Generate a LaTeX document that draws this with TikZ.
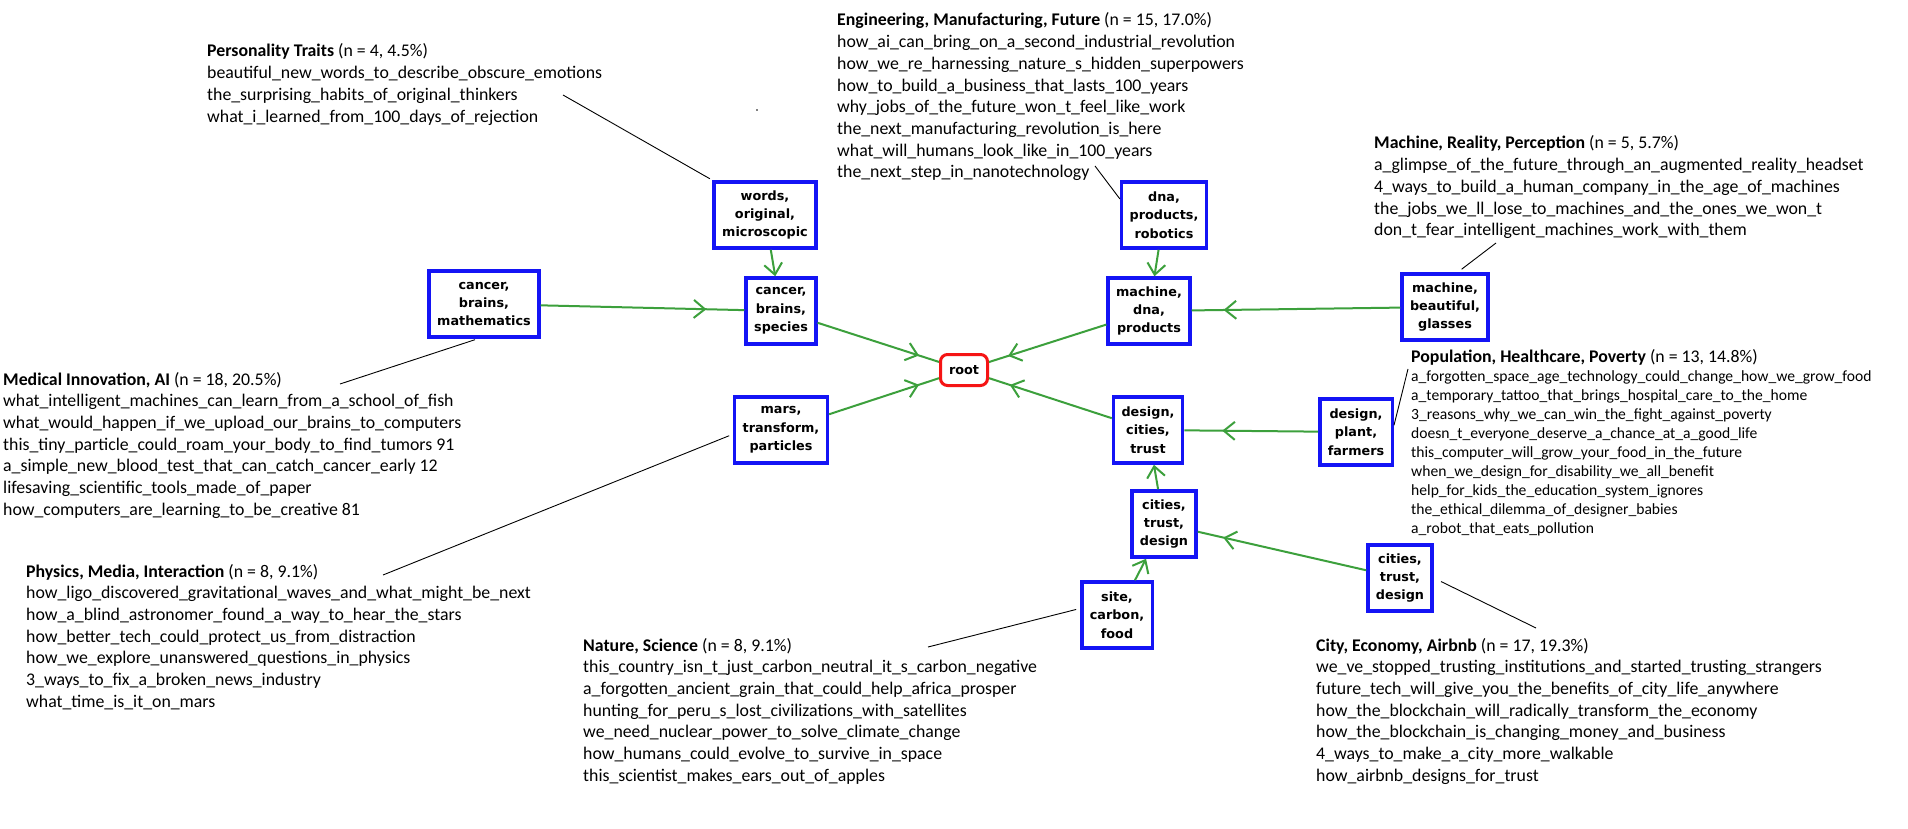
\documentclass[tikz,border=0pt]{standalone}
\usepackage{fontspec}
\setmainfont{Carlito}
\newfontfamily\boxfam{DejaVu Sans}
\usetikzlibrary{arrows.meta,decorations.markings}
\definecolor{edgegreen}{RGB}{60,160,60}
\definecolor{boxblue}{RGB}{20,20,245}
\definecolor{rootred}{RGB}{245,20,20}
\newcommand\blk[3]{\begin{tabular}[t]{@{}l@{}}\textbf{#1} #2\\#3\end{tabular}}
\newcommand\blkbig[3]{\begin{tabular}[t]{@{}l@{}}{\fontsize{17.8}{20}\selectfont\textbf{#1} #2}\\#3\end{tabular}}
\begin{document}
\begin{tikzpicture}[x=1pt,y=-1pt,
  tbox/.style={draw=boxblue, line width=3.5pt, fill=white, align=center, minimum height=66pt, inner xsep=8pt, inner ysep=3pt, font=\boxfam\bfseries\fontsize{12.8}{18.3}\selectfont, text=black},
  rootbox/.style={draw=rootred, line width=3pt, rounded corners=7pt, fill=white, minimum width=47pt, minimum height=31pt, inner sep=2pt, font=\boxfam\bfseries\fontsize{12.8}{18.3}\selectfont, text=black},
  edge/.style={draw=edgegreen, line width=2pt},
  marr/.style={postaction={decorate,decoration={markings,mark=at position #1 with {\arrow{Straight Barb[length=11pt,width=18pt]}}}}},
  endarr/.style={-{Straight Barb[length=11pt,width=18pt]}},
  lead/.style={draw=black, line width=0.9pt},
  txt/.style={anchor=base west, inner sep=0pt, font=\fontsize{17.8}{21.7}\selectfont},
  txts/.style={anchor=base west, inner sep=0pt, font=\fontsize{15.6}{19}\selectfont}]
\fill[white] (0,0) rectangle (1908,829);
\useasboundingbox (0,0) rectangle (1908,829);

% boxes
\node[tbox] (words) at (765,215) {words,\\original,\\microscopic};
\node[tbox] (cbm) at (484,304) {cancer,\\brains,\\mathematics};
\node[tbox] (cbs) at (781,311) {cancer,\\brains,\\species};
\node[rootbox] (root) at (964,370) {root};
\node[tbox] (mars) at (781,430) {mars,\\transform,\\particles};
\node[tbox] (dpr) at (1164,215) {dna,\\products,\\robotics};
\node[tbox] (mdp) at (1149,311) {machine,\\dna,\\products};
\node[tbox] (mbg) at (1445,307) {machine,\\beautiful,\\glasses};
\node[tbox] (dct) at (1148,430) {design,\\cities,\\trust};
\node[tbox] (dpf) at (1356,432) {design,\\plant,\\farmers};
\node[tbox] (ctm) at (1164,524) {cities,\\trust,\\design};
\node[tbox] (ctr) at (1400,578) {cities,\\trust,\\design};
\node[tbox] (site) at (1117,615) {site,\\carbon,\\food};

% green edges
\draw[edge, endarr] (words) -- (cbs);
\draw[edge, marr=-38pt] (cbm) -- (cbs);
\draw[edge, marr=-21pt] (cbs) -- (root);
\draw[edge, marr=-21pt] (mars) -- (root);
\draw[edge, marr=-20pt] (mdp) -- (root);
\draw[edge, marr=-22pt] (dct) -- (root);
\draw[edge, endarr] (dpr) -- (mdp);
\draw[edge, marr=-32pt] (mbg) -- (mdp);
\draw[edge, marr=-38pt] (dpf) -- (dct);
\draw[edge, endarr] (ctm) -- (dct);
\draw[edge, marr=-26pt] (ctr) -- (ctm);
\draw[edge, endarr] (site) -- (ctm);

% text blocks
\node[txt] (tpers) at (207,57) {\blk{Personality Traits}{(n = 4, 4.5\%)}{beautiful\_new\_words\_to\_describe\_obscure\_emotions\\the\_surprising\_habits\_of\_original\_thinkers\\what\_i\_learned\_from\_100\_days\_of\_rejection}};

\node[txt] (teng) at (837,26) {\blk{Engineering, Manufacturing, Future}{(n = 15, 17.0\%)}{how\_ai\_can\_bring\_on\_a\_second\_industrial\_revolution\\how\_we\_re\_harnessing\_nature\_s\_hidden\_superpowers\\how\_to\_build\_a\_business\_that\_lasts\_100\_years\\why\_jobs\_of\_the\_future\_won\_t\_feel\_like\_work\\the\_next\_manufacturing\_revolution\_is\_here\\what\_will\_humans\_look\_like\_in\_100\_years\\the\_next\_step\_in\_nanotechnology}};

\node[txt] (tmach) at (1374,149) {\blk{Machine, Reality, Perception}{(n = 5, 5.7\%)}{a\_glimpse\_of\_the\_future\_through\_an\_augmented\_reality\_headset\\4\_ways\_to\_build\_a\_human\_company\_in\_the\_age\_of\_machines\\the\_jobs\_we\_ll\_lose\_to\_machines\_and\_the\_ones\_we\_won\_t\\don\_t\_fear\_intelligent\_machines\_work\_with\_them}};

\node[txt] (tmed) at (3,385) {\blk{Medical Innovation, AI}{(n = 18, 20.5\%)}{what\_intelligent\_machines\_can\_learn\_from\_a\_school\_of\_fish\\what\_would\_happen\_if\_we\_upload\_our\_brains\_to\_computers\\this\_tiny\_particle\_could\_roam\_your\_body\_to\_find\_tumors 91\\a\_simple\_new\_blood\_test\_that\_can\_catch\_cancer\_early 12\\lifesaving\_scientific\_tools\_made\_of\_paper\\how\_computers\_are\_learning\_to\_be\_creative 81}};

\node[txt] (tphys) at (26,577) {\blk{Physics, Media, Interaction}{(n = 8, 9.1\%)}{how\_ligo\_discovered\_gravitational\_waves\_and\_what\_might\_be\_next\\how\_a\_blind\_astronomer\_found\_a\_way\_to\_hear\_the\_stars\\how\_better\_tech\_could\_protect\_us\_from\_distraction\\how\_we\_explore\_unanswered\_questions\_in\_physics\\3\_ways\_to\_fix\_a\_broken\_news\_industry\\what\_time\_is\_it\_on\_mars}};

\node[txt] (tnat) at (583,651) {\blk{Nature, Science}{(n = 8, 9.1\%)}{this\_country\_isn\_t\_just\_carbon\_neutral\_it\_s\_carbon\_negative\\a\_forgotten\_ancient\_grain\_that\_could\_help\_africa\_prosper\\hunting\_for\_peru\_s\_lost\_civilizations\_with\_satellites\\we\_need\_nuclear\_power\_to\_solve\_climate\_change\\how\_humans\_could\_evolve\_to\_survive\_in\_space\\this\_scientist\_makes\_ears\_out\_of\_apples}};

\node[txts] (tpop) at (1411,362) {\blkbig{Population, Healthcare, Poverty}{(n = 13, 14.8\%)}{a\_forgotten\_space\_age\_technology\_could\_change\_how\_we\_grow\_food\\a\_temporary\_tattoo\_that\_brings\_hospital\_care\_to\_the\_home\\3\_reasons\_why\_we\_can\_win\_the\_fight\_against\_poverty\\doesn\_t\_everyone\_deserve\_a\_chance\_at\_a\_good\_life\\this\_computer\_will\_grow\_your\_food\_in\_the\_future\\when\_we\_design\_for\_disability\_we\_all\_benefit\\help\_for\_kids\_the\_education\_system\_ignores\\the\_ethical\_dilemma\_of\_designer\_babies\\a\_robot\_that\_eats\_pollution}};

\node[txt] (tcity) at (1316,651) {\blk{City, Economy, Airbnb}{(n = 17, 19.3\%)}{we\_ve\_stopped\_trusting\_institutions\_and\_started\_trusting\_strangers\\future\_tech\_will\_give\_you\_the\_benefits\_of\_city\_life\_anywhere\\how\_the\_blockchain\_will\_radically\_transform\_the\_economy\\how\_the\_blockchain\_is\_changing\_money\_and\_business\\4\_ways\_to\_make\_a\_city\_more\_walkable\\how\_airbnb\_designs\_for\_trust}};

% leader lines
\coordinate (lpers) at (563,95);
\coordinate (leng) at (1095,166);
\coordinate (lmach) at (1496,243);
\coordinate (lmed) at (340,384);
\coordinate (lphys) at (383,575);
\coordinate (lnat) at (928,647);
\coordinate (lcity) at (1536,628);
\coordinate (lpop) at (1408,369);
\draw[lead, shorten >=3pt] (lpers) -- (words.north west);
\draw[lead] (leng) -- (dpr.160);
\draw[lead, shorten >=5pt] (lmach) -- (mbg.70);
\draw[lead, shorten >=3pt] (lmed) -- (cbm.-100);
\draw[lead, shorten >=4pt] (lphys) -- (mars.-175);
\draw[lead, shorten >=4pt] (lnat) -- (site.170);
\draw[lead, shorten >=8pt] (lcity) -- (ctr.east);
\draw[lead] (lpop) -- (dpf.10);
\fill[black] (757,110) circle[radius=0.8pt];
\end{tikzpicture}
\end{document}
